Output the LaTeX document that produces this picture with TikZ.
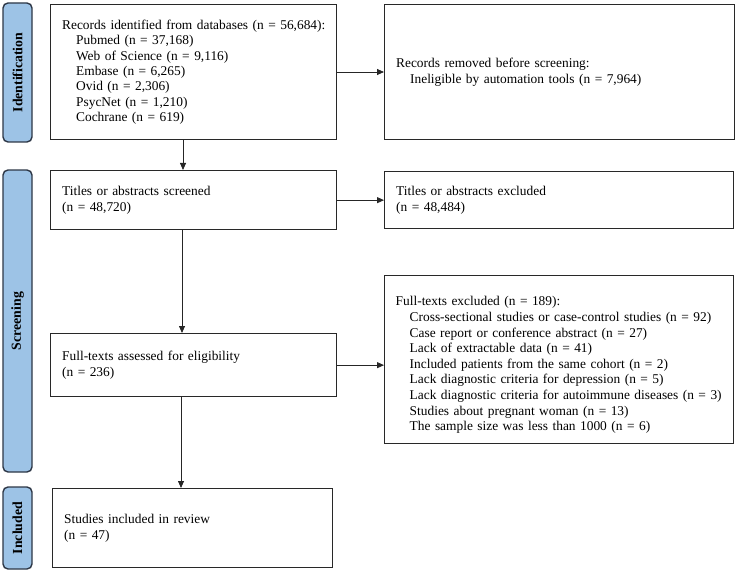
\documentclass[tikz,border=0pt]{standalone}
\usepackage{fontspec}
\setmainfont{Liberation Serif}
\usetikzlibrary{arrows.meta}
\definecolor{sidefill}{RGB}{157,195,230}
\definecolor{sidedraw}{RGB}{45,55,70}
\definecolor{boxdraw}{RGB}{40,40,40}
\tikzset{
  sidelab/.style={draw=sidedraw, line width=1.4pt, fill=sidefill, rounded corners=5pt,
    rotate=90, minimum height=29pt, inner sep=0pt, font=\fontsize{13.8}{16}\selectfont\bfseries},
  box/.style={draw=boxdraw, line width=1.3pt, anchor=north west, align=left, inner xsep=11.5pt,
    inner ysep=0pt, font=\fontsize{13.4}{15.3}\selectfont},
  boxtext/.style={anchor=west, align=left, inner sep=0pt, text width=330pt, font=\fontsize{13.4}{15.6}\selectfont},
  arr/.style={draw=black!85, line width=0.8pt, -{Triangle[length=7pt,width=6pt]}}
}
\newcommand{\ind}{\hspace*{14pt}}
\begin{document}
\begin{tikzpicture}[x=1pt,y=-1pt]
\useasboundingbox (0,0) rectangle (735,572);
% side labels
\node[sidelab, minimum width=139pt] (sid) at (17.5,72.5) {Identification};
\node[sidelab, minimum width=302pt] (sscr) at (17.5,321) {Screening};
\node[sidelab, minimum width=82pt] (sinc) at (17.5,528) {Included};
% boxes
\node[box, text width=263pt, minimum height=135pt] (rec) at (50,4) {\mbox{Records identified from databases (n = 56,684):}\\
\ind Pubmed (n = 37,168)\\
\ind Web of Science (n = 9,116)\\
\ind Embase (n = 6,265)\\
\ind Ovid (n = 2,306)\\
\ind PsycNet (n = 1,210)\\
\ind Cochrane (n = 619)};
\node[box, text width=327pt, minimum height=135pt] (rem) at (384,4) {Records removed before screening:\\
\ind Ineligible by automation tools (n = 7,964)};
\node[box, text width=263pt, minimum height=59pt] (scr) at (50,170) {Titles or abstracts screened\\
(n = 48,720)};
\node[box, text width=326pt, minimum height=57pt] (exc) at (384,171) {Titles or abstracts excluded\\
(n = 48,484)};
\node[box, text width=263pt, minimum height=63pt] (full) at (50,333) {Full-texts assessed for eligibility\\
(n = 236)};
\node[box, minimum width=349pt, minimum height=168pt] (fexc) at (384,275) {};
\node[boxtext] (fexct) at ([xshift=11.5pt,yshift=-5.5pt]fexc.west) {Full-texts excluded (n = 189):\\
\ind Cross-sectional studies or case-control studies (n = 92)\\
\ind Case report or conference abstract (n = 27)\\
\ind Lack of extractable data (n = 41)\\
\ind Included patients from the same cohort (n = 2)\\
\ind Lack diagnostic criteria for depression (n = 5)\\
\ind \mbox{Lack diagnostic criteria for autoimmune diseases (n = 3)}\\
\ind Studies about pregnant woman (n = 13)\\
\ind The sample size was less than 1000 (n = 6)};
\node[box, text width=257pt, minimum height=79pt] (inc) at (52,488) {Studies included in review\\
(n = 47)};
% connector helpers
\coordinate (ax1) at (183,0);
\coordinate (ax2) at (182,0);
\coordinate (ax3) at (181,0);
\coordinate (ay1) at (0,72);
% arrows
\draw[arr] (rec.south -| ax1) -- (scr.north -| ax1);
\draw[arr] (rec.east |- ay1) -- (rem.west |- ay1);
\draw[arr] (scr.east) -- (exc.west |- scr.east);
\draw[arr] (scr.south -| ax2) -- (full.north -| ax2);
\draw[arr] (full.east) -- (fexc.west |- full.east);
\draw[arr] (full.south -| ax3) -- (inc.north -| ax3);
\end{tikzpicture}
\end{document}
